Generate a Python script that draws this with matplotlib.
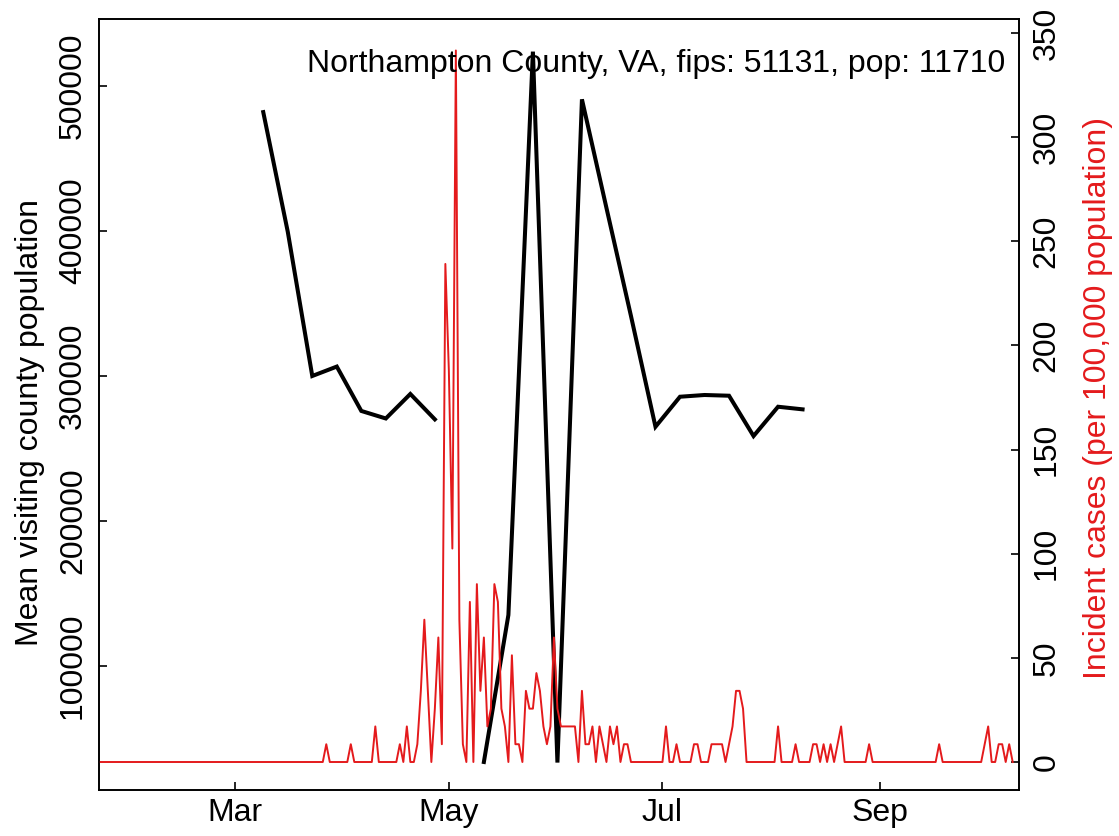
import numpy as np
import pandas as pd
import matplotlib
matplotlib.use("Agg")
import matplotlib.pyplot as plt
import matplotlib.dates as mdates

plt.rcParams['font.family'] = ['Liberation Sans', 'DejaVu Sans']

# County info
county = "Northampton County, VA"
fips = 51131
pop = 11710

# Weekly mean visiting county population (black line)
week_start = pd.date_range("2020-03-09", "2020-08-10", freq="7D")
visitors = [482000, 399500, 300000, 306500, 275900, 270700, 287600, 270100,
            np.nan, 33800, 135200, 523700, 33400, 490800, 415900, 341400,
            265000, 285700, 286900, 286400, 258600, 278800, 277000]

# Daily incident cases, raw counts (red line), Jan 22 - Oct 9 2020
days = pd.date_range("2020-01-22", "2020-10-09", freq="D")
cases_jan = [0, 0, 0, 0, 0, 0, 0, 0, 0, 0]
cases_feb = [0, 0, 0, 0, 0, 0, 0, 0, 0, 0, 0, 0, 0, 0, 0, 0, 0, 0, 0, 0,
             0, 0, 0, 0, 0, 0, 0, 0, 0]
cases_mar = [0, 0, 0, 0, 0, 0, 0, 0, 0, 0, 0, 0, 0, 0, 0, 0, 0, 0, 0, 0,
             0, 0, 0, 0, 0, 0, 1, 0, 0, 0, 0]
cases_apr = [0, 0, 1, 0, 0, 0, 0, 0, 0, 2, 0, 0, 0, 0, 0, 0, 1, 0, 2, 0,
             0, 1, 4, 8, 4, 0, 3, 7, 1, 28]
cases_may = [22, 12, 40, 8, 1, 0, 9, 0, 10, 4, 7, 2, 3, 10, 9, 3, 2, 0, 6, 1,
             1, 0, 4, 3, 3, 5, 4, 2, 1, 2, 7]
cases_jun = [3, 2, 2, 2, 2, 2, 0, 4, 1, 1, 2, 0, 2, 1, 0, 2, 1, 2, 0, 1,
             1, 0, 0, 0, 0, 0, 0, 0, 0, 0]
cases_jul = [0, 2, 0, 0, 1, 0, 0, 0, 0, 1, 1, 0, 0, 0, 1, 1, 1, 1, 0, 1,
             2, 4, 4, 3, 0, 0, 0, 0, 0, 0, 0]
cases_aug = [0, 0, 2, 0, 0, 0, 0, 1, 0, 0, 0, 0, 1, 1, 0, 1, 0, 1, 0, 1,
             2, 0, 0, 0, 0, 0, 0, 0, 1, 0, 0]
cases_sep = [0, 0, 0, 0, 0, 0, 0, 0, 0, 0, 0, 0, 0, 0, 0, 0, 0, 1, 0, 0,
             0, 0, 0, 0, 0, 0, 0, 0, 0, 0]
cases_oct = [1, 2, 0, 0, 1, 1, 0, 1, 0]

cases = (cases_jan + cases_feb + cases_mar + cases_apr + cases_may
         + cases_jun + cases_jul + cases_aug + cases_sep + cases_oct)
incid = np.array(cases) / pop * 1e5

left_ticks = [100000, 200000, 300000, 400000, 500000]
right_ticks = [0, 50, 100, 150, 200, 250, 300, 350]

W, H = 1119, 836
fs = 23
fig = plt.figure(figsize=(W / 100, H / 100), dpi=100)
ax = fig.add_axes([99 / W, 46 / H, 920 / W, 771 / H])

ax.plot(week_start, visitors, color="black", lw=2.9, solid_joinstyle="miter")
ax.set_ylim(14483, 546207)
ax.set_yticks(left_ticks)
ax.set_yticklabels([str(v) for v in left_ticks], rotation=90, va="center")

mar1 = mdates.date2num(pd.Timestamp("2020-03-01"))
ax.set_xlim(mar1 - 38.9, mar1 + 223.8)
ax.xaxis.set_major_locator(mdates.MonthLocator(bymonth=[3, 5, 7, 9]))
ax.xaxis.set_major_formatter(mdates.DateFormatter("%b"))

ax2 = ax.twinx()
ax2.plot(days, incid, color="#e41a1c", lw=1.4)
ax2.set_ylim(-13.44, 356.7)
ax2.set_yticks(right_ticks)
ax2.set_yticklabels([str(v) for v in right_ticks], rotation=90, va="center")

for a in (ax, ax2):
    for s in a.spines.values():
        s.set_linewidth(1.2)
    a.tick_params(direction="in", length=5.5, width=1.2, labelsize=fs)
ax.tick_params(axis="x", pad=6)
ax.tick_params(axis="y", pad=8)
ax2.tick_params(axis="y", pad=9)

fig.text(30 / W, 1 - 422 / H, "Mean visiting county population", rotation=90,
         ha="center", va="center", fontsize=fs)
fig.text(1098 / W, 1 - 398 / H, "Incident cases (per 100,000 population)",
         rotation=90, ha="center", va="center", fontsize=fs, color="#e41a1c")
fig.text(1005 / W, 1 - 72 / H, f"{county}, fips: {fips}, pop: {pop}",
         ha="right", va="baseline", fontsize=fs)

fig.savefig("out.png", dpi=100)
